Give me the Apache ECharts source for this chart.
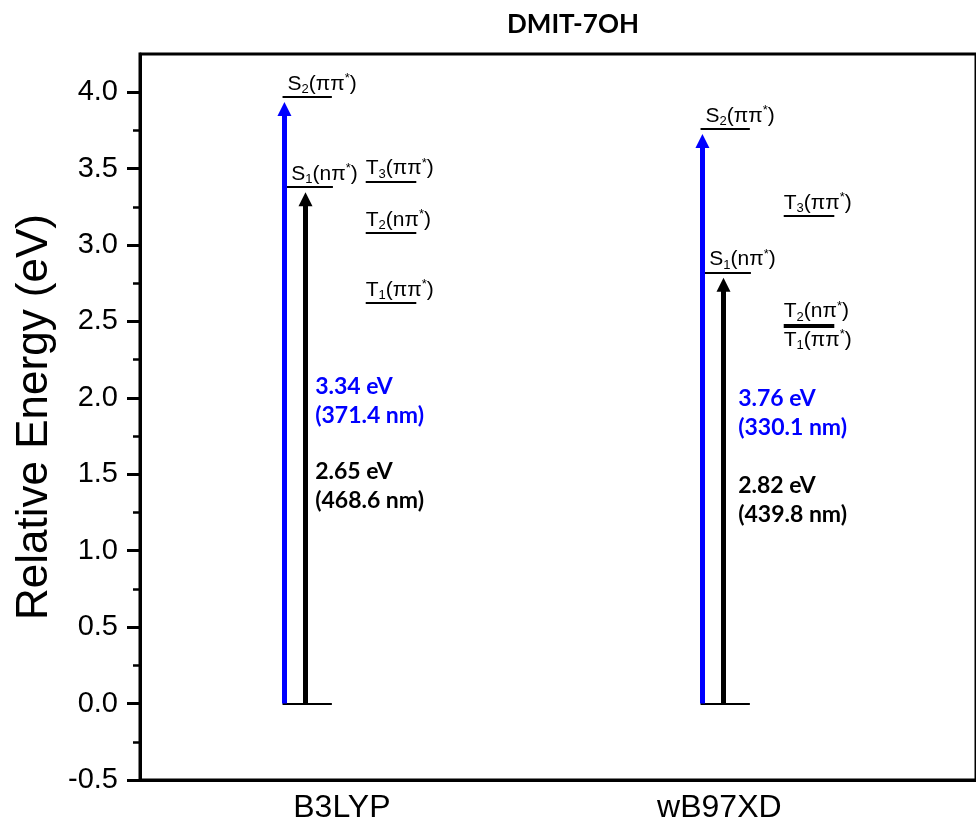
<!DOCTYPE html>
<html><head><meta charset="utf-8">
<script src="https://cdn.jsdelivr.net/npm/echarts@6/dist/echarts.min.js"></script>
<style>html,body{margin:0;padding:0;background:#fff}#c{width:976px;height:832px}</style>
</head><body><div id="c"></div>
<script>
// ---- data ----
const methods = ['B3LYP', 'wB97XD'];
const methodLabelPos = [1.083, 1.986];
const stateNames = ['S0', 'S1', 'S2', 'T1', 'T2', 'T3'];
const b3lypEnergies = [0, 3.38, 3.97, 2.62, 3.08, 3.415];
const wb97xdEnergies = [0, 2.82, 3.76, 2.465, 2.48, 3.19];
const b3lypOrbitals = ['', 'nπ', 'ππ', 'ππ', 'nπ', 'ππ'];
const wb97xdOrbitals = ['', 'nπ', 'ππ', 'ππ', 'nπ', 'ππ'];
const b3lypS2Text = ['3.34 eV', '(371.4 nm)'];
const b3lypS1Text = ['2.65 eV', '(468.6 nm)'];
const wb97xdS2Text = ['3.76 eV', '(330.1 nm)'];
const wb97xdS1Text = ['2.82 eV', '(439.8 nm)'];
const yMajorTicks = [-0.5, 0, 0.5, 1.0, 1.5, 2.0, 2.5, 3.0, 3.5, 4.0];
const yMinorTicks = [-0.25, 0.25, 0.75, 1.25, 1.75, 2.25, 2.75, 3.25, 3.75];
const titleText = 'DMIT-7OH';
const yAxisTitle = 'Relative Energy (eV)';

// ---- build ----
const energiesByMethod = [b3lypEnergies, wb97xdEnergies];
const orbitalsByMethod = [b3lypOrbitals, wb97xdOrbitals];
const annotByMethod = [[b3lypS2Text, b3lypS1Text], [wb97xdS2Text, wb97xdS1Text]];
const BLUE = '#0000ff';
const ARROW_GAP = 0.08;

const richStyles = {
  m: { fontSize: 21, fontFamily: 'Liberation Sans', color: '#000', lineHeight: 24 },
  sub: { fontSize: 13, fontFamily: 'Liberation Sans', color: '#000', lineHeight: 12, verticalAlign: 'bottom' },
  sup: { fontSize: 13, fontFamily: 'Liberation Sans', color: '#000', lineHeight: 12, verticalAlign: 'top' }
};
function stateLabel(name, orb) {
  return '{m|' + name[0] + '}{sub|' + name[1] + '}{m|(' + orb + '}{sup|*}{m|)}';
}

const levelData = [];
const blueArrows = [];
const blackArrows = [];
const annotData = [];
energiesByMethod.forEach(function (E, m) {
  const col = m + 1;
  const orbs = orbitalsByMethod[m];
  stateNames.forEach(function (name, i) {
    const isS = name[0] === 'S';
    let x0, x1;
    if (isS) { x0 = col + (i === 1 ? -0.05 : -0.059); x1 = col + (i === 1 ? 0.0615 : 0.059); }
    else { x0 = col + 0.14; x1 = col + 0.261; }
    const item = { coords: [[x0, E[i]], [x1, E[i]]] };
    if (i > 0) {
      let below = false;
      if (!isS) {
        stateNames.forEach(function (n2, j) {
          if (j !== i && n2[0] === 'T' && E[j] > E[i] && E[j] - E[i] < 0.1) below = true;
        });
      }
      item.label = {
        show: true,
        position: below ? 'insideStartBottom' : 'insideStartTop',
        distance: isS ? [5, 1] : [0, 1],
        formatter: stateLabel(name, orbs[i]),
        rich: richStyles
      };
    }
    levelData.push(item);
  });
  blueArrows.push({ coords: [[col - 0.0545, 0], [col - 0.0545, E[2] - ARROW_GAP]] });
  blackArrows.push({ coords: [[col - 0.004, 0], [col - 0.004, E[1] - ARROW_GAP]] });
});
const annotPos = [[[1.019, 1.98], [1.019, 1.42]], [[2.031, 1.90], [2.031, 1.334]]];
annotByMethod.forEach(function (pair, m) {
  pair.forEach(function (txt, k) {
    annotData.push({
      value: annotPos[m][k],
      label: { color: k === 0 ? BLUE : '#000', formatter: txt.join('\n') }
    });
  });
});

const chart = echarts.init(document.getElementById('c'), null, { renderer: 'canvas' });
chart.setOption({
  animation: false,
  backgroundColor: '#fff',
  grid: { left: 140, top: 54, right: -8, bottom: 52, show: true, borderColor: '#000', borderWidth: 3, backgroundColor: 'transparent' },
  graphic: [{
    type: 'text', x: 573, y: 25,
    style: { text: titleText, align: 'center', verticalAlign: 'middle', font: 'bold 26px Lato', fill: '#000' }
  }],
  xAxis: {
    type: 'value', min: 0.6, max: 2.6,
    axisLine: { show: true, onZero: false, lineStyle: { color: '#000', width: 3 } },
    axisTick: { show: false },
    splitLine: { show: false },
    axisLabel: {
      customValues: methodLabelPos,
      formatter: function (v) { return v < 1.5 ? methods[0] : methods[1]; },
      fontSize: 32, fontFamily: 'Liberation Sans', color: '#000', margin: 12
    }
  },
  yAxis: [{
    type: 'value', min: -0.5, max: 4.25, interval: 0.5,
    name: yAxisTitle, nameLocation: 'middle', nameGap: 82,
    nameTextStyle: { fontSize: 44, fontFamily: 'Liberation Sans', color: '#000' },
    axisLine: { show: true, onZero: false, lineStyle: { color: '#000', width: 3 } },
    axisTick: { show: true, customValues: yMajorTicks, length: 13, lineStyle: { color: '#000', width: 3 } },
    axisLabel: {
      customValues: yMajorTicks,
      formatter: function (v) { return v.toFixed(1); },
      fontSize: 29, fontFamily: 'Liberation Sans', color: '#000', margin: 22
    },
    splitLine: { show: false }
  }, {
    type: 'value', min: -0.5, max: 4.25, position: 'left',
    axisLine: { show: false },
    axisTick: { show: true, customValues: yMinorTicks, length: 7, lineStyle: { color: '#000', width: 2.5 } },
    axisLabel: { show: false },
    splitLine: { show: false }
  }],
  series: [{
    type: 'lines', coordinateSystem: 'cartesian2d', yAxisIndex: 0,
    data: levelData, symbol: ['none', 'none'],
    lineStyle: { color: '#000', width: 2, opacity: 1 },
    z: 3
  }, {
    type: 'lines', coordinateSystem: 'cartesian2d', yAxisIndex: 0,
    data: blueArrows, symbol: ['none', 'triangle'], symbolSize: [15, 14],
    lineStyle: { color: BLUE, width: 5, opacity: 1 },
    itemStyle: { color: BLUE },
    z: 4
  }, {
    type: 'lines', coordinateSystem: 'cartesian2d', yAxisIndex: 0,
    data: blackArrows, symbol: ['none', 'triangle'], symbolSize: [15, 14],
    lineStyle: { color: '#000', width: 5, opacity: 1 },
    itemStyle: { color: '#000' },
    z: 4
  }, {
    type: 'scatter', yAxisIndex: 0, symbolSize: 0, silent: true,
    itemStyle: { opacity: 1 },
    data: annotData,
    label: {
      show: true, position: 'right', distance: 0, align: 'left', verticalAlign: 'middle',
      fontFamily: 'Lato', fontWeight: 'bold', fontSize: 23, lineHeight: 29, opacity: 1
    },
    z: 5
  }]
});
</script></body></html>
